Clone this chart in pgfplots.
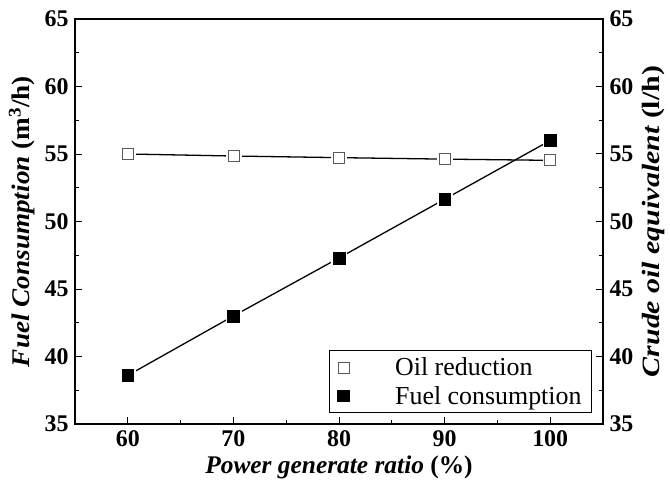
\documentclass[border=0pt]{standalone}
\usepackage{fontspec}
\setmainfont{Liberation Serif}
\usepackage{graphicx}
\usepackage{pgfplots}
\pgfplotsset{compat=1.18}
\begin{document}
\begin{tikzpicture}
\path[use as bounding box] (-75bp,-62bp) rectangle (595bp,424bp);
\begin{axis}[
  scale only axis, width=528bp, height=405bp,
  xmin=55, xmax=105, ymin=35, ymax=65,
  xtick={60,70,80,90,100}, ytick={35,40,45,50,55,60,65},
  minor x tick num=1, minor y tick num=1,
  xtick pos=left, ytick pos=left,
  tick align=inside,
  major tick length=7bp, minor tick length=4bp,
  axis line style={line width=1.1pt},
  every tick/.style={line width=1pt, black},
  /pgf/number format/assume math mode=true,
  ticklabel style={font=\fontsize{24}{26}\selectfont\bfseries},
  xticklabel style={yshift=-3bp},
  yticklabel style={xshift=-3bp},
  xlabel={\bfseries\itshape Power generate ratio \upshape(\%)},
  ylabel={\scalebox{1.07}[1]{\bfseries\itshape Fuel Consumption \upshape(m\textsuperscript{3}/h)}},
  label style={font=\fontsize{25.5}{28}\selectfont},
  xlabel style={at={(axis description cs:0.5,-0.106)}, anchor=center},
  ylabel style={at={(axis description cs:-0.1004,0.5)}, anchor=center, rotate=0},
  legend style={at={(axis description cs:0.979,0.027)}, anchor=south east,
    draw=black, line width=0.8pt, font=\fontsize{26}{30}\selectfont,
    inner xsep=8bp, inner ysep=5bp, column sep=44bp, row sep=5bp},
  legend cell align=left,
]
\addplot[black, line width=1.3pt, forget plot] coordinates {(60,55.0) (70,54.85) (80,54.73) (90,54.62) (100,54.53)};
\addplot[black, line width=1.3pt, forget plot] coordinates {(60,38.6) (70,43.0) (80,47.3) (90,51.65) (100,56.0)};
\addplot[white, only marks, mark=square*, mark size=7.5bp, mark options={fill=white, draw=white}, forget plot] coordinates {(60,55.0) (70,54.85) (80,54.73) (90,54.62) (100,54.53)};
\addplot[white, only marks, mark=square*, mark size=7.5bp, mark options={fill=white, draw=white}, forget plot] coordinates {(60,38.6) (70,43.0) (80,47.3) (90,51.65) (100,56.0)};
\addplot[black!65, only marks, mark=square*, mark size=5.5bp, mark options={fill=white, draw=black!65, line width=0.7pt}] coordinates {(60,55.0) (70,54.85) (80,54.73) (90,54.62) (100,54.53)};
\addlegendentry{Oil reduction}
\addplot[black, only marks, mark=square*, mark size=5.8bp, mark options={fill=black, draw=black}] coordinates {(60,38.6) (70,43.0) (80,47.3) (90,51.65) (100,56.0)};
\addlegendentry{Fuel consumption}
\end{axis}
\begin{axis}[
  scale only axis, width=528bp, height=405bp,
  xmin=55, xmax=105, ymin=35, ymax=65,
  axis x line=none, axis y line*=right,
  ytick={35,40,45,50,55,60,65}, minor y tick num=1,
  tick align=inside,
  major tick length=7bp, minor tick length=4bp,
  axis line style={line width=1.1pt},
  every tick/.style={line width=1pt, black},
  /pgf/number format/assume math mode=true,
  ticklabel style={font=\fontsize{24}{26}\selectfont\bfseries},
  yticklabel style={xshift=3bp},
  ylabel={\scalebox{1.2}[1]{\bfseries\itshape Crude oil equivalent \upshape(l/h)}},
  label style={font=\fontsize{25}{28}\selectfont},
  ylabel style={at={(axis description cs:1.095,0.5)}, anchor=center, rotate=0},
]
\end{axis}
\end{tikzpicture}
\end{document}
